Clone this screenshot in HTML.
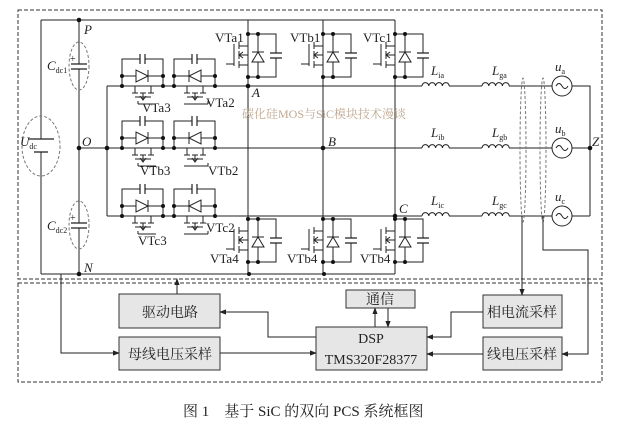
<!DOCTYPE html>
<html><head><meta charset="utf-8"><style>
html,body{margin:0;padding:0;background:#fff;}
svg{display:block;}
text{font-family:"Liberation Serif","Noto Serif CJK SC",serif;fill:#222;}
.cn{font-family:"Liberation Serif","Noto Serif CJK SC","Noto Sans CJK SC",serif;}
</style></head><body>
<svg width="617" height="425" viewBox="0 0 617 425" xmlns="http://www.w3.org/2000/svg">
<defs>
<marker id="ar" viewBox="0 0 8 8" refX="7" refY="4" markerWidth="7" markerHeight="7" orient="auto" markerUnits="userSpaceOnUse"><path d="M0,1 L8,4 L0,7 z" fill="#222"/></marker>
<g id="hr">
<path d="M0,0 V-27 H18 M23,-27 H41 V0 M0,-10 H41" fill="none" stroke="#222" stroke-width="1"/>
<path d="M18,-32 V-22 M23,-32 V-22" stroke="#222" stroke-width="1.2"/>
<polygon points="14,-16 14,-4 26,-10" fill="#fff" stroke="#222"/>
<path d="M26,-16 V-4" stroke="#222"/>
<circle cx="0" cy="-10" r="2" fill="#111"/><circle cx="41" cy="-10" r="2" fill="#111"/>
<circle cx="0" cy="0" r="2" fill="#111"/><circle cx="41" cy="0" r="2" fill="#111"/>
<path d="M13,0 V7 M29,0 V7 M10,7 H16 M18,7 H24 M26,7 H32 M21,7 V13 M13,11 H29 M16,18 V15 M16,18 H34" fill="none" stroke="#222"/>
<path d="M18,10 L21,14 L24,10" fill="none" stroke="#222"/>
</g>
<g id="hl">
<path d="M0,0 V-27 H18 M23,-27 H41 V0 M0,-10 H41" fill="none" stroke="#222" stroke-width="1"/>
<path d="M18,-32 V-22 M23,-32 V-22" stroke="#222" stroke-width="1.2"/>
<polygon points="27,-16 27,-4 15,-10" fill="#fff" stroke="#222"/>
<path d="M15,-16 V-4" stroke="#222"/>
<circle cx="0" cy="-10" r="2" fill="#111"/><circle cx="41" cy="-10" r="2" fill="#111"/>
<circle cx="0" cy="0" r="2" fill="#111"/><circle cx="41" cy="0" r="2" fill="#111"/>
<path d="M13,0 V7 M29,0 V7 M10,7 H16 M18,7 H24 M26,7 H32 M21,7 V13 M13,11 H29 M34,18 V15 M10,18 H34" fill="none" stroke="#222"/>
<path d="M18,10 L21,14 L24,10" fill="none" stroke="#222"/>
</g>
<g id="vs">
<path d="M0,0 V43 M0,0 H28 V19 M28,24 V43 H0 M10,0 V43" fill="none" stroke="#222"/>
<path d="M22,19 H34 M22,24 H34" stroke="#222" stroke-width="1.2"/>
<polygon points="4,28 16,28 10,18" fill="#fff" stroke="#222"/>
<path d="M4,18 H16" stroke="#222"/>
<path d="M0,12 H-9 M0,31 H-9 M-9,8 V15 M-9,17 V25 M-9,27 V34 M-14,10 V32 M-14,30 H-22 M0,21 H-9" fill="none" stroke="#222"/>
<path d="M-5,18 L-9,21 L-5,24" fill="none" stroke="#222"/>
<circle cx="0" cy="0" r="2" fill="#111"/><circle cx="10" cy="0" r="2" fill="#111"/>
<circle cx="0" cy="43" r="2" fill="#111"/><circle cx="10" cy="43" r="2" fill="#111"/>
</g>
<g id="ind"><path d="M0,0 a3.4,3.4 0 0 1 6.8,0 a3.4,3.4 0 0 1 6.8,0 a3.4,3.4 0 0 1 6.8,0 a3.4,3.4 0 0 1 6.8,0" fill="none" stroke="#222"/></g>
<g id="src"><circle cx="0" cy="0" r="10" fill="#fff" stroke="#222"/><path d="M-6,0 q3,-5 6,0 t6,0" fill="none" stroke="#222"/></g>
</defs>

<rect x="18" y="10" width="584" height="269" fill="none" stroke="#333" stroke-dasharray="4,2"/>
<rect x="18" y="283" width="584" height="99" fill="none" stroke="#333" stroke-dasharray="4,2"/>

<g stroke="#222" fill="none">
<path d="M41,20 H395 M41,274 H395 M41,20 V139 M41,152 V274"/>
<path d="M79,20 V64 M79,69 V223 M79,228 V274"/>
<path d="M107,86 V216 M107,86 H422 M79,148 H422 M107,216 H422"/>
<path d="M248,20 V274 M323,20 V274 M395,20 V274"/>
<path d="M28,139 H54" stroke-width="1.3"/><path d="M34,152 H48" stroke-width="1.3"/>
<path d="M71,64 H87 M71,69 H87 M71,223 H87 M71,228 H87" stroke-width="1.3"/>
<path d="M449,86 H482 M449,148 H482 M449,216 H482 M509,86 H552 M509,148 H552 M509,216 H552 M572,86 H590 V216 M572,148 H590 M572,216 H590"/>
</g>
<g stroke="#777" fill="none" stroke-dasharray="3,2">
<ellipse cx="41" cy="146" rx="19" ry="30"/>
<ellipse cx="79" cy="66" rx="10" ry="24"/>
<ellipse cx="79" cy="225" rx="10" ry="24"/>
<ellipse cx="523" cy="150" rx="3" ry="72"/>
<ellipse cx="543" cy="150" rx="3" ry="72"/>
</g>
<text x="70" y="62" font-size="10">+</text><text x="70" y="221" font-size="10">+</text>

<g fill="#111">
<circle cx="79" cy="20" r="2.3"/><circle cx="79" cy="148" r="2.3"/><circle cx="79" cy="274" r="2.3"/>
<circle cx="107" cy="148" r="2.3"/><circle cx="248" cy="86" r="2.3"/><circle cx="323" cy="148" r="2.3"/>
<circle cx="395" cy="216" r="2.3"/><circle cx="590" cy="148" r="2.3"/>
<circle cx="249" cy="274" r="2"/><circle cx="324" cy="274" r="2"/>
</g>

<use href="#hr" x="122" y="86"/><use href="#hl" x="174" y="86"/>
<use href="#hr" x="122" y="148"/><use href="#hl" x="174" y="148"/>
<use href="#hr" x="122" y="216"/><use href="#hl" x="174" y="216"/>
<use href="#vs" x="248" y="34"/><use href="#vs" x="323" y="34"/><use href="#vs" x="395" y="34"/>
<use href="#vs" x="248" y="219"/><use href="#vs" x="323" y="219"/><use href="#vs" x="395" y="219"/>
<use href="#ind" x="422" y="86"/><use href="#ind" x="482" y="86"/>
<use href="#ind" x="422" y="148"/><use href="#ind" x="482" y="148"/>
<use href="#ind" x="422" y="216"/><use href="#ind" x="482" y="216"/>
<use href="#src" x="562" y="86"/><use href="#src" x="562" y="148"/><use href="#src" x="562" y="216"/>

<g font-size="13">
<text x="84" y="34" font-style="italic">P</text>
<text x="82" y="146" font-style="italic">O</text>
<text x="84" y="272" font-style="italic">N</text>
<text x="252" y="97" font-style="italic">A</text>
<text x="328" y="146" font-style="italic">B</text>
<text x="399" y="213" font-style="italic">C</text>
<text x="592" y="146" font-style="italic">Z</text>
<text x="20" y="146" font-style="italic">U<tspan font-size="8" font-style="normal" dy="3">dc</tspan></text>
<text x="47" y="70" font-style="italic">C<tspan font-size="8" font-style="normal" dy="3">dc1</tspan></text>
<text x="47" y="230" font-style="italic">C<tspan font-size="8" font-style="normal" dy="3">dc2</tspan></text>
<text x="215" y="42">VTa1</text><text x="290" y="42">VTb1</text><text x="363" y="42">VTc1</text>
<text x="142" y="112">VTa3</text><text x="206" y="107">VTa2</text>
<text x="140" y="175">VTb3</text><text x="208" y="175">VTb2</text>
<text x="138" y="245">VTc3</text><text x="206" y="232">VTc2</text>
<text x="210" y="263">VTa4</text><text x="287" y="263">VTb4</text><text x="360" y="263">VTb4</text>
<text x="431" y="75" font-style="italic">L<tspan font-size="8" font-style="normal" dy="3">ia</tspan></text>
<text x="492" y="75" font-style="italic">L<tspan font-size="8" font-style="normal" dy="3">ga</tspan></text>
<text x="555" y="71" font-style="italic">u<tspan font-size="8" font-style="normal" dy="3">a</tspan></text>
<text x="431" y="137" font-style="italic">L<tspan font-size="8" font-style="normal" dy="3">ib</tspan></text>
<text x="492" y="137" font-style="italic">L<tspan font-size="8" font-style="normal" dy="3">gb</tspan></text>
<text x="555" y="133" font-style="italic">u<tspan font-size="8" font-style="normal" dy="3">b</tspan></text>
<text x="431" y="205" font-style="italic">L<tspan font-size="8" font-style="normal" dy="3">ic</tspan></text>
<text x="492" y="205" font-style="italic">L<tspan font-size="8" font-style="normal" dy="3">gc</tspan></text>
<text x="555" y="201" font-style="italic">u<tspan font-size="8" font-style="normal" dy="3">c</tspan></text>
</g>
<text x="242" y="118" font-size="12" class="cn" style="fill:#b39a80" opacity="0.85">碳化硅MOS与SiC模块技术漫谈</text>

<g fill="#e6e6e6" stroke="#333">
<rect x="119" y="294" width="101" height="34"/>
<rect x="119" y="337" width="101" height="33"/>
<rect x="346" y="290" width="69" height="18"/>
<rect x="316" y="327" width="111" height="43"/>
<rect x="483" y="295" width="79" height="33"/>
<rect x="483" y="337" width="79" height="33"/>
</g>
<g font-size="14" class="cn" text-anchor="middle">
<text x="170" y="317">驱动电路</text>
<text x="170" y="359">母线电压采样</text>
<text x="380" y="304">通信</text>
<text x="371" y="343">DSP</text>
<text x="371" y="364">TMS320F28377</text>
<text x="522" y="317">相电流采样</text>
<text x="522" y="359">线电压采样</text>
</g>
<g stroke="#222" fill="none" marker-end="url(#ar)">
<path d="M177,294 V279"/>
<path d="M61,274 V353 H119"/>
<path d="M220,353 H316"/>
<path d="M316,337 H268 V312 H220"/>
<path d="M375,327 V308"/>
<path d="M388,308 V327"/>
<path d="M483,312 H451 V337 H427"/>
<path d="M483,354 H427"/>
<path d="M522,216 V295"/>
<path d="M543,216 V250 H588 V354 H562"/>
</g>

<text x="183" y="416" font-size="15" class="cn">图 1　基于 SiC 的双向 PCS 系统框图</text>
</svg>
</body></html>
